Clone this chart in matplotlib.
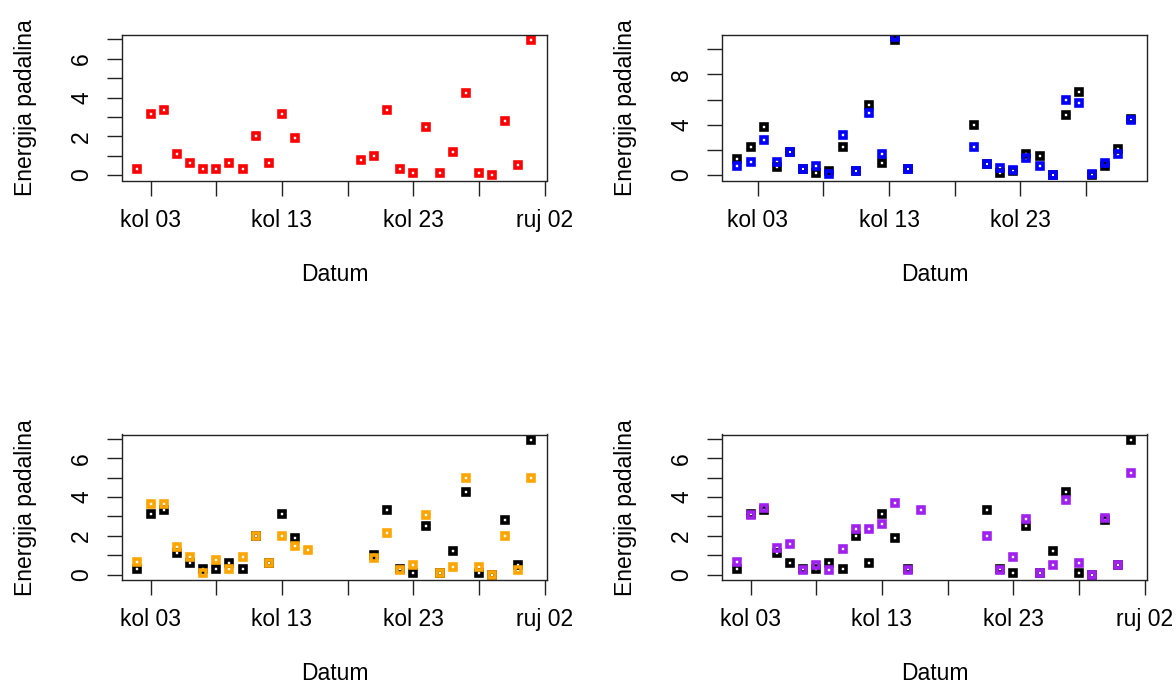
import pandas as pd
import matplotlib
matplotlib.use('Agg')
import matplotlib.pyplot as plt
import matplotlib.dates as mdates

plt.rcParams['font.family'] = ['Liberation Sans', 'DejaVu Sans']

# --- data --------------------------------------------------------------
# panel 1 (red) and the black reference series
dates_p1 = (list(pd.date_range('2021-08-02', '2021-08-14'))
            + list(pd.date_range('2021-08-19', '2021-09-01')))
vals_p1 = [0.3, 3.15, 3.35, 1.1, 0.6, 0.3, 0.3, 0.6, 0.3, 2.0, 0.6, 3.15, 1.9,
           0.8, 1.0, 3.35, 0.3, 0.1, 2.5, 0.1, 1.2, 4.25, 0.1, 0.0, 2.8, 0.5, 6.95]

# panel 2 (black vs blue), measured at about 11h
dates_p2 = (list(pd.date_range('2021-08-01 11:00', '2021-08-14 11:00'))
            + list(pd.date_range('2021-08-19 11:00', '2021-08-31 11:00')))
black_p2 = [1.25, 2.25, 3.8, 0.65, 1.8, 0.45, 0.2, 0.3, 2.25, 0.35, 5.55, 1.0, 10.7, 0.45,
            4.0, 0.85, 0.2, 0.35, 1.65, 1.5, 0.0, 4.75, 6.6, 0.0, 0.7, 2.1, 4.45]
blue_p2 = [0.7, 1.05, 2.75, 1.05, 1.8, 0.45, 0.75, 0.1, 3.15, 0.3, 4.9, 1.65, 10.95, 0.45,
           2.25, 0.85, 0.6, 0.4, 1.35, 0.75, 0.0, 5.95, 5.7, 0.1, 1.0, 1.65, 4.35]

# panel 3 (black vs orange)
dates_p3_black = (list(pd.date_range('2021-08-02', '2021-08-14'))
                  + list(pd.date_range('2021-08-20', '2021-09-01')))
black_p3 = [0.3, 3.15, 3.35, 1.1, 0.6, 0.3, 0.3, 0.6, 0.3, 2.0, 0.6, 3.15, 1.9,
            1.0, 3.35, 0.3, 0.1, 2.5, 0.1, 1.2, 4.25, 0.1, 0.0, 2.8, 0.5, 6.95]
dates_p3 = (list(pd.date_range('2021-08-02', '2021-08-15'))
            + list(pd.date_range('2021-08-20', '2021-09-01')))
orange_p3 = [0.63, 3.65, 3.65, 1.4, 0.9, 0.1, 0.75, 0.3, 0.9, 2.0, 0.6, 2.0, 1.5, 1.25,
             0.85, 2.15, 0.25, 0.5, 3.1, 0.1, 0.4, 5.0, 0.4, 0.0, 2.0, 0.25, 5.0]

# panel 4 (black vs purple)
dates_p4_black = (list(pd.date_range('2021-08-02', '2021-08-15'))
                  + list(pd.date_range('2021-08-21', '2021-09-01')))
black_p4 = [0.3, 3.15, 3.35, 1.1, 0.6, 0.3, 0.3, 0.6, 0.3, 2.0, 0.6, 3.15, 1.9, 0.3,
            3.35, 0.3, 0.1, 2.5, 0.1, 1.2, 4.25, 0.1, 0.0, 2.8, 0.5, 6.95]
dates_p4 = (list(pd.date_range('2021-08-02', '2021-08-16'))
            + list(pd.date_range('2021-08-21', '2021-09-01')))
purple_p4 = [0.63, 3.1, 3.45, 1.35, 1.6, 0.25, 0.5, 0.25, 1.3, 2.35, 2.35, 2.6, 3.7, 0.25, 3.35,
             2.0, 0.25, 0.9, 2.85, 0.1, 0.5, 3.85, 0.6, 0.0, 2.9, 0.5, 5.25]

tick_dates = pd.date_range('2021-08-03', '2021-09-02', freq='5D')
tick_labels = ['kol 03', '', 'kol 13', '', 'kol 23', '', 'ruj 02']

W, H = 1176, 691
fig = plt.figure(figsize=(W / 100, H / 100), dpi=100)


def panel(rect, x_first, y_first, col_first, extra=None):
    ax = fig.add_axes(rect)
    x0 = mdates.date2num(pd.DatetimeIndex(x_first))

    mk = dict(marker='s', ms=5.0, mew=2.6, mfc='none', ls='none')
    ax.plot(x0, y_first, color=col_first, **mk)
    if extra is not None:
        xd, yd, c = extra
        ax.plot(mdates.date2num(pd.DatetimeIndex(xd)), yd, color=c, **mk)

    ax.set_xticks(mdates.date2num(tick_dates))
    ax.set_xticklabels(tick_labels)
    top = max(y_first)
    if top > 9:
        ax.set_yticks(range(0, 11, 2))
        ax.set_yticklabels(['0', '', '4', '', '8', ''])
    else:
        ax.set_yticks(range(0, 8))
        ax.set_yticklabels(['0', '', '2', '', '4', '', '6', ''])

    # R style: limits come from the first series, extended by 4 %
    xr = x0.max() - x0.min()
    ax.set_xlim(x0.min() - 0.04 * xr, x0.max() + 0.04 * xr)
    yr = max(y_first) - min(y_first)
    ax.set_ylim(min(y_first) - 0.04 * yr, max(y_first) + 0.04 * yr)

    plt.setp(ax.get_yticklabels(), rotation=90, va='center')
    ax.tick_params(length=10.5, width=1.0, pad=10, labelsize=16.5, color='#222222')
    for s in ax.spines.values():
        s.set_linewidth(1.0)
        s.set_color('#222222')
    ax.set_xlabel('Datum', fontsize=16.5)
    ax.set_ylabel('Energija padalina', fontsize=16.5)
    ax.xaxis.set_label_coords(0.5, -0.567)
    ax.yaxis.set_label_coords(-0.199, 0.5)
    return ax


aw = 425.5 / W
ah = 145.5 / H
panel([121.7 / W, 1 - 180.5 / H, aw, ah], dates_p1, vals_p1, 'red')
panel([721.7 / W, 1 - 180.5 / H, aw, ah], dates_p2, black_p2, 'black',
      (dates_p2, blue_p2, 'blue'))
panel([121.7 / W, 1 - 580 / H, aw, ah], dates_p3_black, black_p3, 'black',
      (dates_p3, orange_p3, 'orange'))
panel([721.7 / W, 1 - 580 / H, aw, ah], dates_p4_black, black_p4, 'black',
      (dates_p4, purple_p4, '#A020F0'))

fig.savefig('out.png', dpi=100)
